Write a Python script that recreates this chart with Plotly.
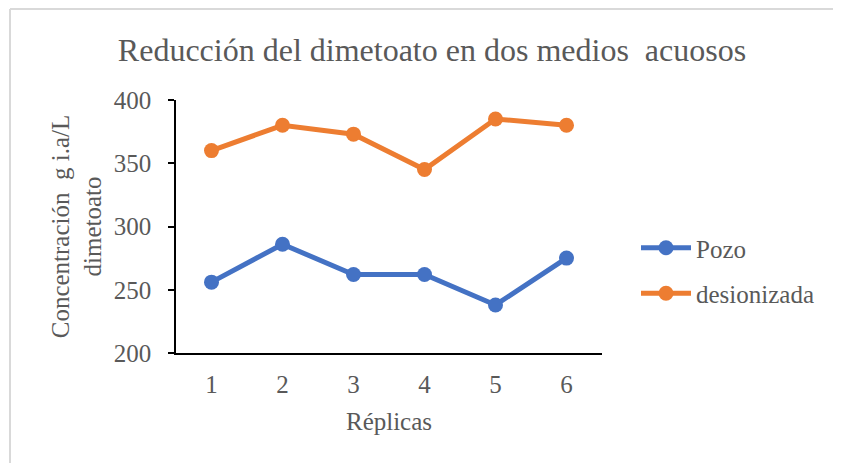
import plotly.graph_objects as go

replicas = [1, 2, 3, 4, 5, 6]
pozo = [256, 286, 262, 262, 238, 275]
desionizada = [360, 380, 373, 345, 385, 380]
y_ticks = [200, 250, 300, 350, 400]

title_text = "Reducción del dimetoato en dos medios  acuosos"
x_title = "Réplicas"
y_title = "Concentración  g i.a/L<br>dimetoato"

FONT = "Liberation Serif, Times New Roman, serif"
GRAY = "#595959"

OFF = 8  # page body margin
W, H = 841 - OFF, 463 - OFF
L, R, T, B = 176 - OFF, 602 - OFF, 100 - OFF, 353 - OFF


def px2x(px):
    return (px - OFF - L) / (R - L)


def py2y(py):
    return (B - (py - OFF)) / (B - T)


fig = go.Figure()
fig.add_trace(go.Scatter(x=replicas, y=pozo, name="Pozo", mode="lines+markers",
                         line=dict(color="#4472C4", width=5),
                         marker=dict(size=15, color="#4472C4"),
                         legendgroup="a"))
fig.add_trace(go.Scatter(x=replicas, y=desionizada, name="desionizada", mode="lines+markers",
                         line=dict(color="#ED7D31", width=5),
                         marker=dict(size=15, color="#ED7D31"),
                         legendgroup="b"))

shapes = [
    dict(type="line", xref="paper", yref="paper", x0=px2x(10), x1=px2x(10), y0=py2y(9), y1=py2y(480),
         line=dict(color="#d9d9d9", width=2)),
    dict(type="line", xref="paper", yref="paper", x0=px2x(10), x1=px2x(860), y0=py2y(9), y1=py2y(9),
         line=dict(color="#d9d9d9", width=2)),
]

fig.update_layout(
    width=W, height=H,
    margin=dict(l=L, r=W - R, t=T, b=H - B),
    paper_bgcolor="white", plot_bgcolor="white",
    font=dict(family=FONT, color=GRAY, size=25),
    title=dict(text=title_text, x=(432 - OFF) / W, xanchor="center", y=1 - (50 - OFF) / H, yanchor="middle",
               font=dict(size=32, color=GRAY, family=FONT)),
    xaxis=dict(tickmode="array", tickvals=replicas, ticktext=[str(v) for v in replicas],
               range=[0.5, 6.5], showgrid=False, zeroline=False,
               showline=True, linecolor="black", linewidth=1.5, ticks="",
               ticklabelstandoff=8,
               title=dict(text=x_title, standoff=16, font=dict(size=25, color=GRAY))),
    yaxis=dict(tickmode="array", tickvals=y_ticks, range=[200, 400],
               showgrid=False, zeroline=False,
               showline=True, linecolor="black", linewidth=1.5,
               ticks="outside", ticklen=6, tickcolor="black", tickwidth=1.5,
               ticklabelstandoff=12,
               title=dict(text=y_title, standoff=5, font=dict(size=25, color=GRAY))),
    legend=dict(x=px2x(636), y=py2y(225), xanchor="left", yanchor="top",
                font=dict(size=25, color=GRAY), tracegroupgap=10, itemwidth=50,
                bgcolor="rgba(0,0,0,0)"),
    shapes=shapes,
)

fig.write_html("out.html")
